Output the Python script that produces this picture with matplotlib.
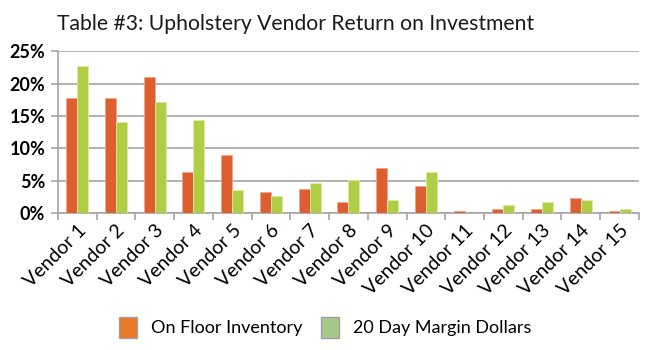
import numpy as np
import matplotlib
matplotlib.use("Agg")
import matplotlib.pyplot as plt
from matplotlib.patches import Patch
from matplotlib.ticker import FixedLocator, PercentFormatter

vendors = ["Vendor %d" % i for i in range(1, 16)]
on_floor = [17.8, 17.8, 21.0, 6.4, 8.9, 3.2, 3.8, 1.7, 7.0, 4.2, 0.26, 0.57, 0.57, 2.3, 0.4]
margin_20day = [22.7, 14.1, 17.1, 14.3, 3.6, 2.7, 4.7, 5.05, 2.1, 6.4, 0.0, 1.2, 1.7, 2.1, 0.57]

bar_orange = "#DD5E2E"
bar_green = "#B0CE44"
key_orange = "#E87A2C"
key_green = "#A3C98A"

plt.rcParams["font.family"] = ["Lato", "DejaVu Sans"]

fig = plt.figure(figsize=(6.5, 3.5), dpi=100)
ax = fig.add_axes([0.089, 0.391, 0.894, 0.463])

x = np.arange(len(vendors))
w = 0.285
ax.bar(x - w / 2, on_floor, w, color=bar_orange, edgecolor="#F2A585", linewidth=0.6, zorder=3)
ax.bar(x + w / 2, margin_20day, w, color=bar_green, edgecolor="#DCEAA8", linewidth=0.6, zorder=3)

ax.set_xlim(-0.5, len(vendors) - 0.5)
ax.set_ylim(0, 25)
ax.set_yticks(np.arange(0, 26, 5))
ax.yaxis.set_major_formatter(PercentFormatter(decimals=0))
ax.yaxis.grid(True, color="#A6A6A6", linewidth=1.2, zorder=0)

# labels sit under each group, tick marks fall between groups
ax.set_xticks(x)
ax.set_xticklabels(vendors, rotation=45, ha="right", rotation_mode="anchor")
ax.tick_params(axis="x", length=0, pad=6, labelsize=14)
ax.xaxis.set_minor_locator(FixedLocator(np.arange(-0.5, len(vendors), 1.0)))
ax.tick_params(axis="x", which="minor", length=5, color="#A6A6A6", width=1.2)
ax.tick_params(axis="y", length=5, color="#A6A6A6", width=1.2, labelsize=13, pad=4)
for lab in ax.get_yticklabels():
    lab.set_fontweight("bold")

for side in ["top", "right"]:
    ax.spines[side].set_visible(False)
ax.spines["left"].set_color("#A6A6A6")
ax.spines["left"].set_linewidth(1.2)
ax.spines["bottom"].set_color("#A6A6A6")
ax.spines["bottom"].set_linewidth(1.2)

fig.text(0.088, 0.915, "Table #3: Upholstery Vendor Return on Investment",
         fontsize=15.2, fontweight="normal", color="#1A1A1A", ha="left", va="baseline")

handles = [Patch(facecolor=key_orange, edgecolor="#A0A0A0", linewidth=1.0),
           Patch(facecolor=key_green, edgecolor="#A0A0A0", linewidth=1.0)]
fig.legend(handles, ["On Floor Inventory", "20 Day Margin Dollars"],
           loc="center", bbox_to_anchor=(0.5, 0.065), ncol=2, frameon=False,
           fontsize=13, handlelength=1.0, handleheight=1.4, handletextpad=0.8,
           columnspacing=1.0)

fig.savefig("out.png", dpi=100)
